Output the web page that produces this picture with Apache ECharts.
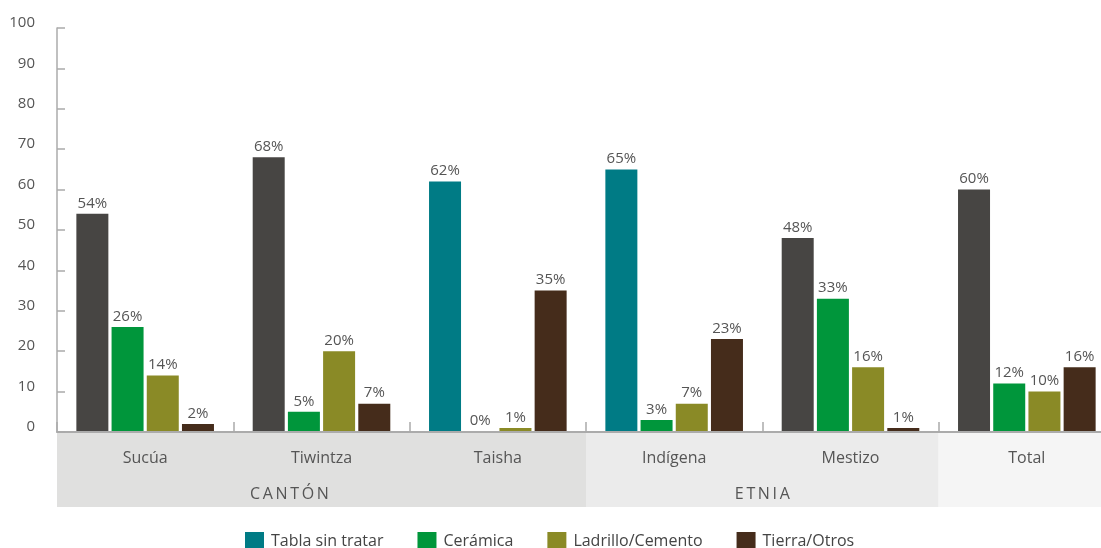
<!DOCTYPE html>
<html>
<head>
<meta charset="utf-8">
<script src="https://cdn.jsdelivr.net/npm/echarts@6/dist/echarts.min.js"></script>
<style>
  html, body { margin: 0; padding: 0; background: #fff; overflow: hidden; }
  #chart { width: 1115px; height: 548px; }
</style>
</head>
<body>
<div id="chart"></div>
<script>
// Material of the floor, share of households (%) by canton and ethnicity
const categories = ['Sucúa', 'Tiwintza', 'Taisha', 'Indígena', 'Mestizo', 'Total'];
const seriesNames = ['Tabla sin tratar', 'Cerámica', 'Ladrillo/Cemento', 'Tierra/Otros'];
const tablaSinTratar = [54, 68, 62, 65, 48, 60];
const ceramica = [26, 5, 0, 3, 33, 12];
const ladrillo = [14, 20, 1, 7, 16, 10];
const tierra = [2, 7, 35, 23, 1, 16];
const yTicks = [0, 10, 20, 30, 40, 50, 60, 70, 80, 90, 100];

// Category groups shown in the band under the axis
const groups = [
  { name: 'CANTÓN', from: 0, to: 2 },
  { name: 'ETNIA', from: 3, to: 4 },
  { name: '', from: 5, to: 5 }
];

const FONT = 'Open Sans';
const TEXT = '#555555';
const AXIS = '#ababab';
const colors = ['#007b85', '#00963b', '#8a8a26', '#452c1b'];
const greyBar = '#474543';
const tealCategories = ['Taisha', 'Indígena'];
const bandColors = ['#e0e0df', '#ebebeb', '#f5f5f5'];

// The last category runs past the visible page edge, so the canvas is a bit wider than the window
const chart = echarts.init(document.getElementById('chart'));

const label = {
  show: true,
  position: 'top',
  distance: 3,
  formatter: p => p.value + '%',
  color: TEXT,
  fontFamily: FONT,
  fontSize: 15
};

function makeSeries(name, values, idx) {
  return {
    name: name,
    type: 'bar',
    barWidth: 32,
    barGap: '10%',
    barMinHeight: idx === 1 ? 1 : 0,
    itemStyle: { color: colors[idx] },
    label: label,
    data: values.map((v, i) => {
      if (idx === 0 && tealCategories.indexOf(categories[i]) < 0) {
        return { value: v, itemStyle: { color: greyBar } };
      }
      return v;
    })
  };
}

const option = {
  animation: false,
  textStyle: { fontFamily: FONT },
  grid: { left: 57, top: 28, right: 0, bottom: 116, containLabel: false },
  legend: {
    left: 245,
    top: 527,
    padding: [5, 0, 0, 0],
    itemWidth: 19,
    itemHeight: 19,
    itemGap: 34,
    icon: 'rect',
    textStyle: { color: '#444', fontSize: 16, fontFamily: FONT, padding: [0, 0, 0, 2] },
    data: seriesNames
  },
  xAxis: {
    type: 'category',
    data: categories,
    axisLine: { lineStyle: { color: AXIS, width: 2 } },
    axisTick: { show: true, inside: true, length: 10, interval: 0, lineStyle: { color: AXIS, width: 1.5 } },
    axisLabel: { color: TEXT, fontSize: 16, fontFamily: FONT, margin: 18, interval: 0 },
    z: 5
  },
  yAxis: {
    type: 'value',
    min: 0,
    max: 100,
    interval: 10,
    splitLine: { show: false },
    axisLine: { show: true, lineStyle: { color: AXIS, width: 1.5 } },
    axisTick: { show: true, inside: true, length: 8, lineStyle: { color: AXIS, width: 1.5 } },
    axisLabel: {
      color: TEXT, fontSize: 15, fontFamily: FONT, margin: 22,
      verticalAlign: 'bottom', lineHeight: 10,
      formatter: v => (yTicks.indexOf(v) >= 0 ? String(v) : '')
    },
    z: 5
  },
  series: [
    makeSeries(seriesNames[0], tablaSinTratar, 0),
    makeSeries(seriesNames[1], ceramica, 1),
    makeSeries(seriesNames[2], ladrillo, 2),
    makeSeries(seriesNames[3], tierra, 3)
  ]
};

chart.setOption(option);

// Shaded bands below the axis, one per category group, with the group titles
function drawBands() {
  const c0 = chart.convertToPixel({ xAxisIndex: 0 }, categories[0]);
  const c1 = chart.convertToPixel({ xAxisIndex: 0 }, categories[1]);
  const band = c1 - c0;
  const base = chart.convertToPixel({ yAxisIndex: 0 }, 0);
  const bandHeight = 75;
  const elements = [];
  groups.forEach((g, k) => {
    const x0 = chart.convertToPixel({ xAxisIndex: 0 }, categories[g.from]) - band / 2;
    const x1 = chart.convertToPixel({ xAxisIndex: 0 }, categories[g.to]) + band / 2;
    elements.push({
      type: 'rect',
      z: -10,
      silent: true,
      shape: { x: x0, y: base, width: x1 - x0, height: bandHeight },
      style: { fill: bandColors[k] }
    });
    if (g.name) {
      const spaced = g.name.split('').join('\u2009');
      const cx = k === 0 ? x0 + (x1 - x0) / 2 - 32 : (x0 + x1) / 2;
      elements.push({
        type: 'text',
        z: 10,
        silent: true,
        x: cx,
        y: base + 62,
        style: {
          text: spaced,
          fill: TEXT,
          font: '16px "' + FONT + '"',
          textAlign: 'center',
          textVerticalAlign: 'middle'
        }
      });
    }
  });
  chart.setOption({ graphic: { elements: elements } });
}
drawBands();
</script>
</body>
</html>
